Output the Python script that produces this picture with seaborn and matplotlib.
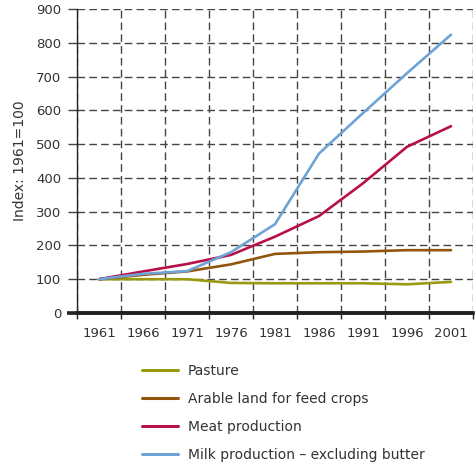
import matplotlib
matplotlib.use("Agg")
import matplotlib.pyplot as plt
import seaborn as sns
import pandas as pd
import numpy as np
from matplotlib.ticker import FixedLocator
import matplotlib.transforms as mtransforms

years = [1961, 1966, 1971, 1976, 1981, 1986, 1991, 1996, 2001]
pasture = [100, 100, 100, 89, 88, 88, 88, 85, 92]
arable = [100, 113, 123, 144, 175, 180, 182, 186, 186]
meat = [100, 123, 145, 172, 226, 287, 384, 492, 553]
milk = [100, 116, 124, 180, 263, 472, 592, 710, 824]
series_names = ["Pasture", "Arable land for feed crops", "Meat production",
                "Milk production \u2013 excluding butter"]
colors = ["#9A9A10", "#93550E", "#B8104A", "#6FA3D6"]
tick_labels = [str(y) for y in years]

df = pd.concat([
    pd.DataFrame({"year": years, "value": v, "series": n})
    for v, n in zip([pasture, arable, meat, milk], series_names)
])

sns.set_theme(style="white")
plt.rcParams["font.family"] = ["DejaVu Sans"]

fig = plt.figure(figsize=(4.77, 4.65), dpi=100)
ax = fig.add_axes([77/477, 1-313/465, (473-77)/477, (313-9)/465])

sns.lineplot(data=df, x="year", y="value", hue="series", hue_order=series_names,
             palette=colors, linewidth=1.9, ax=ax, legend=False)

ax.set_xlim(1958.5, 2003.5)
ax.set_ylim(0, 900)
ax.set_yticks(range(0, 901, 100))
ax.set_xticks(years)
ax.set_xticklabels(tick_labels)
ax.xaxis.set_minor_locator(FixedLocator(np.arange(1958.5, 2004, 5)))

gridc = "#444444"
ax.grid(True, axis="y", which="major", color=gridc, linestyle=(0, (5.5, 3)), linewidth=1.0)
ax.grid(True, axis="x", which="minor", color=gridc, linestyle=(0, (5.5, 3)), linewidth=1.0)
ax.grid(False, axis="x", which="major")
ax.set_axisbelow(True)

for s in ["top", "right"]:
    ax.spines[s].set_visible(False)
ax.spines["left"].set_color("#222222")
ax.spines["left"].set_linewidth(1.0)
ax.spines["bottom"].set_color("#222222")
ax.spines["bottom"].set_linewidth(2.6)
ax.spines["bottom"].set_zorder(5)

ax.tick_params(axis="y", which="major", direction="out", length=6.5, width=1.0,
               color=gridc, pad=5, labelsize=9.5, labelcolor="#333333", left=True)
ax.tick_params(axis="x", which="major", length=0, pad=10, labelsize=9.5,
               labelcolor="#333333", bottom=True)
ax.tick_params(axis="x", which="minor", direction="out", length=4, width=1.0,
               color="#222222", bottom=True)

trans = mtransforms.blended_transform_factory(ax.transAxes, ax.transData)
ax.plot([-0.025, 1.0], [0, 0], transform=trans, color="#222222", linewidth=2.6,
        clip_on=False, zorder=6, solid_capstyle="butt")

ax.set_xlabel("")
ax.set_ylabel("Index: 1961=100", fontsize=10, color="#333333", labelpad=6)

handles = [plt.Line2D([], [], color=c, linewidth=2.2) for c in colors]
fig.legend(handles, series_names, loc="upper left",
           bbox_to_anchor=(135/477, 1-357/465), frameon=False, fontsize=10,
           handlelength=2.6, handletextpad=0.7, labelspacing=1.0, borderpad=0,
           labelcolor="#333333")

fig.savefig("out.png", dpi=100)
